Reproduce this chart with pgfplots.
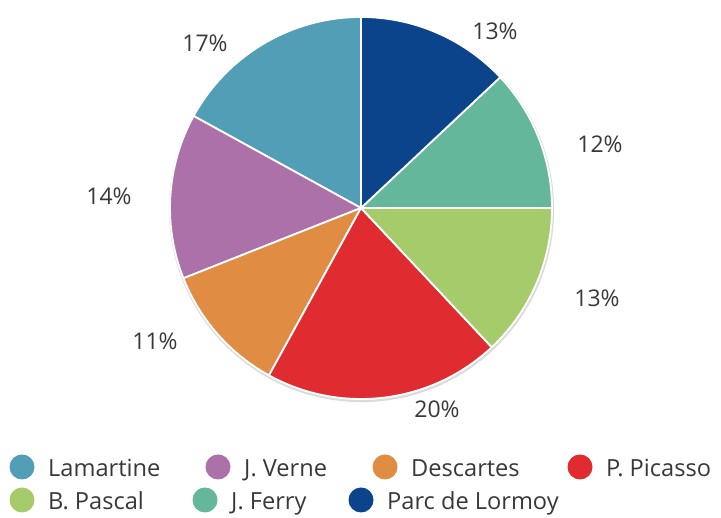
\documentclass[border=0pt]{standalone}
\usepackage{pgfplots}
\usepackage{pgfplotstable}
\pgfplotsset{compat=1.18}
\usepackage{fontspec}
\setmainfont{Open Sans}
\definecolor{cLam}{HTML}{519EB6}
\definecolor{cVer}{HTML}{AD71A9}
\definecolor{cDes}{HTML}{E08D43}
\definecolor{cPic}{HTML}{E02B30}
\definecolor{cPas}{HTML}{A6CB6A}
\definecolor{cFer}{HTML}{65B79B}
\definecolor{cLor}{HTML}{0B448A}
\definecolor{txt}{HTML}{383838}
% value in percent, colour, label position (image pixels: x, y from top)
\pgfplotstableread[col sep=comma]{
name,value,color,lx,ly
Lamartine,17,cLam,205,52
J. Verne,14,cVer,109,205
Descartes,11,cDes,155,350
P. Picasso,20,cPic,437,418
B. Pascal,13,cPas,597,307
J. Ferry,12,cFer,600,153
Parc de Lormoy,13,cLor,495,40
}\piedata
\begin{document}
\begin{tikzpicture}
\begin{axis}[x=1pt,y=1pt,xmin=0,xmax=721,ymin=0,ymax=518,
  scale only axis,hide axis,clip=false]
\path (axis cs:0,0) rectangle (axis cs:721,518);
% faint shadow
\draw[black!14,line width=2.2pt] (axis cs:361.5,308.5) circle[radius=191.5pt];
\def\cum{90}
\pgfplotsforeachungrouped \i in {0,...,6}{%
  \pgfplotstablegetelem{\i}{value}\of\piedata \let\v\pgfplotsretval
  \pgfplotstablegetelem{\i}{color}\of\piedata \let\c\pgfplotsretval
  \pgfplotstablegetelem{\i}{lx}\of\piedata \let\lx\pgfplotsretval
  \pgfplotstablegetelem{\i}{ly}\of\piedata \let\ly\pgfplotsretval
  \pgfmathsetmacro\a{\cum}%
  \pgfmathsetmacro\b{\cum+3.6*\v}%
  \pgfmathsetmacro\sx{361+191*cos(\a)}%
  \pgfmathsetmacro\sy{310+191*sin(\a)}%
  \pgfmathsetmacro\ty{518-\ly}%
  \edef\temp{\noexpand\fill[\c,draw=white,line width=1.8pt,line join=round]
    (axis cs:361,310) -- (axis cs:\sx,\sy)
    arc[start angle=\a,end angle=\b,radius=191pt] -- cycle;
    \noexpand\node[anchor=base,text=txt,font=\noexpand\fontsize{23}{27}\noexpand\selectfont,inner sep=0pt]
    at (axis cs:\lx,\ty) {\v\noexpand\%};}%
  \temp
  \xdef\cum{\b}%
}
% legend
\def\legitem#1#2#3#4{%
  \fill[#2] (axis cs:#3,518-#4+10) circle[radius=12.5pt];
  \node[anchor=base west,text=txt,font=\fontsize{23.6}{28}\selectfont,inner sep=0pt]
    at (axis cs:#3+26,518-#4) {#1};}
\legitem{Lamartine}{cLam}{22}{477}
\legitem{J. Verne}{cVer}{218}{477}
\legitem{Descartes}{cDes}{385}{477}
\legitem{P. Picasso}{cPic}{580}{477}
\legitem{B. Pascal}{cPas}{22}{510}
\legitem{J. Ferry}{cFer}{205}{510}
\legitem{Parc de Lormoy}{cLor}{361}{510}
\end{axis}
\end{tikzpicture}
\end{document}
